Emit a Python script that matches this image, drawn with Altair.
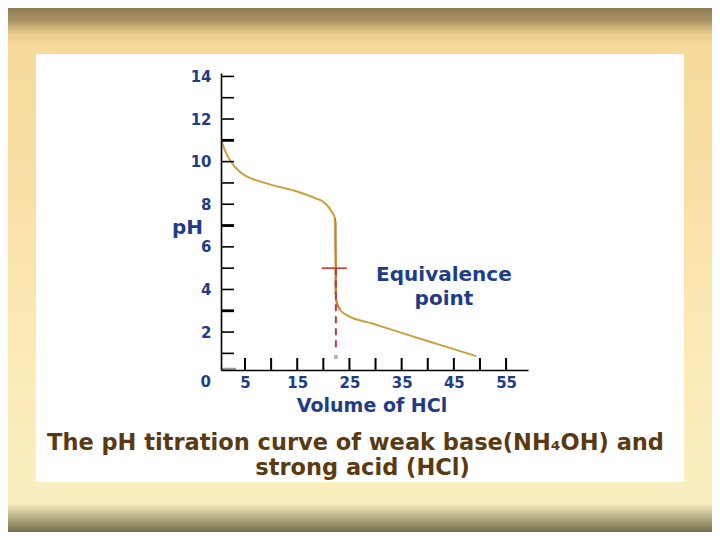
import altair as alt
import pandas as pd

# ---- data ----
volume = [0.55, 1.2, 2.1, 4.0, 8.8, 15.1, 18.4, 20.3, 21.6, 22.2, 22.3, 22.45, 23.2, 24.6, 29.4, 35.9, 42.2, 49.3]
ph = [10.93, 10.5, 10.08, 9.53, 9.0, 8.59, 8.29, 8.06, 7.65, 7.35, 7.05, 3.5, 3.05, 2.78, 2.4, 1.89, 1.41, 0.87]

y_tick_values = list(range(1, 15))
y_bold_ticks = [3, 7, 11]
y_label_values = [2, 4, 6, 8, 10, 12, 14]
x_tick_values = [5, 10, 15, 20, 25, 30, 35, 40, 45, 50, 55]
x_label_values = [5, 15, 25, 35, 45, 55]

equiv_volume = 22.4
equiv_ph = 5.0
cross_left = 19.7
cross_right = 24.5
dash_bottom_ph = 1.15
marker_ph = 0.83
highlight_top = [7.2, 4.6]
highlight_bottom = [5.8, 3.8]

annot_volume = [43.1, 43.1]
annot_ph = [4.68, 3.55]
annot_text = ["Equivalence", "point"]

title_lines = ["The pH titration curve of weak base(NH\u2084OH) and", "strong acid (HCl)"]
x_title = "Volume of HCl"
y_title = "pH"

# ---- layout ----
W, H = 307, 297
PAD = {"left": 213, "top": 65, "right": 184, "bottom": 162}
FONT = "DejaVu Sans"
NAVY = "#1f3d87"
BROWN = "#5b3a12"

xs = alt.Scale(domain=[0.4, 59.2], nice=False, zero=False)
ys = alt.Scale(domain=[0.22, 14.16], nice=False, zero=False)

xaxis = alt.Axis(values=x_label_values, tickSize=0, labelPadding=5, labelFont=FONT,
                 labelFontSize=15, labelFontWeight="bold", labelColor=NAVY,
                 domainColor="black", domainWidth=1.6, grid=False, zindex=1,
                 title=x_title, titleFont=FONT, titleFontSize=19, titleFontWeight="bold",
                 titleColor=NAVY, titleX=150.5, titleY=35, titleBaseline="middle",
                 titleAlign="center", labelFlush=False)
yaxis = alt.Axis(values=y_label_values, tickSize=0, labelPadding=10, labelFont=FONT,
                 labelFontSize=15, labelFontWeight="bold", labelColor=NAVY,
                 domainColor="black", domainWidth=1.6, grid=False, zindex=1,
                 title=y_title, titleFont=FONT, titleFontSize=20, titleFontWeight="bold",
                 titleColor=NAVY, titleAngle=0, titleX=-34, titleY=154,
                 titleBaseline="middle", titleAlign="center", labelFlush=False)

X = alt.X("vol:Q", scale=xs, axis=xaxis)
Y = alt.Y("ph:Q", scale=ys, axis=yaxis)

one = pd.DataFrame({"k": [0]})

# ---- background decoration ----
bg = alt.Chart(one).mark_rect(fill=alt.Gradient(
    gradient="linear", x1=0, x2=0, y1=0, y2=1,
    stops=[alt.GradientStop(color="#8f7b53", offset=0.0),
           alt.GradientStop(color="#a99162", offset=0.023),
           alt.GradientStop(color="#eccd8e", offset=0.05),
           alt.GradientStop(color="#f7d99b", offset=0.075),
           alt.GradientStop(color="#f9dfa6", offset=0.35),
           alt.GradientStop(color="#fcecb8", offset=0.7),
           alt.GradientStop(color="#f8efc0", offset=0.945),
           alt.GradientStop(color="#aaa47c", offset=0.977),
           alt.GradientStop(color="#75714e", offset=1.0)])
).encode(x=alt.value(-213), x2=alt.value(491), y=alt.value(-65), y2=alt.value(459))

box = alt.Chart(one).mark_rect(fill="white").encode(
    x=alt.value(-185), x2=alt.value(463), y=alt.value(-19), y2=alt.value(409))

# ---- ticks (pointing inward) ----
yt = alt.Chart(pd.DataFrame({"ph": y_tick_values})).mark_rule(color="black", strokeWidth=1.6).encode(
    y=Y, x=alt.value(0), x2=alt.value(13))
ytb = alt.Chart(pd.DataFrame({"ph": y_bold_ticks})).mark_rule(color="black", strokeWidth=2.8).encode(
    y=Y, x=alt.value(0), x2=alt.value(13))
xt = alt.Chart(pd.DataFrame({"vol": x_tick_values})).mark_rule(color="black", strokeWidth=2).encode(
    x=X, y=alt.value(H), y2=alt.value(H - 12))
zero_tick = alt.Chart(one).mark_rule(color="#9a9a9a", strokeWidth=2.5).encode(
    x=alt.value(0), x2=alt.value(15), y=alt.value(H - 1))
zero_label = alt.Chart(pd.DataFrame({"ph": [0], "t": ["0"]})).mark_text(
    font=FONT, fontSize=15, fontWeight="bold", color=NAVY, align="right", baseline="middle", dy=7
).encode(y=Y, x=alt.value(-10), text="t:N")

# ---- curve ----
curve_df = pd.DataFrame({"vol": volume, "ph": ph})
curve = alt.Chart(curve_df).mark_line(color="#c9a03e", strokeWidth=2, interpolate="monotone").encode(x=X, y=Y)
hl = alt.Chart(pd.DataFrame({"vol": [equiv_volume - 0.1] * 2, "ph": highlight_top, "ph2": highlight_bottom})).mark_rule(
    color="#cfc8bc", strokeWidth=3).encode(x=X, y=Y, y2="ph2:Q")
steep_df = curve_df[(curve_df.ph <= 7.4) & (curve_df.ph >= 3.0)]
steep = alt.Chart(steep_df).mark_line(color="#d07f2c", strokeWidth=2, interpolate="monotone").encode(x=X, y=Y)

# ---- equivalence point ----
dash = alt.Chart(pd.DataFrame({"vol": [equiv_volume], "ph": [equiv_ph], "ph2": [dash_bottom_ph]})).mark_rule(
    color="#b83a3a", strokeWidth=2, strokeDash=[7, 5]).encode(x=X, y=Y, y2="ph2:Q")
cross = alt.Chart(pd.DataFrame({"vol": [cross_left], "vol2": [cross_right], "ph": [equiv_ph]})).mark_rule(
    color="#c0302a", strokeWidth=1.5).encode(x=X, x2="vol2:Q", y=Y)
marker = alt.Chart(pd.DataFrame({"vol": [equiv_volume], "ph": [marker_ph]})).mark_square(
    color="#b8a8b0", size=14, opacity=1).encode(x=X, y=Y)

annot = alt.Chart(pd.DataFrame({"vol": annot_volume, "ph": annot_ph, "t": annot_text})).mark_text(
    font=FONT, fontSize=20, fontWeight="bold", color=NAVY, align="center", baseline="middle"
).encode(x=X, y=Y, text="t:N")

title1 = alt.Chart(pd.DataFrame({"t": [title_lines[0]]})).mark_text(
    font=FONT, fontSize=22.5, fontWeight="bold", color=BROWN, align="center", baseline="middle"
).encode(x=alt.value(134.5), y=alt.value(370), text="t:N")
title2 = alt.Chart(pd.DataFrame({"t": [title_lines[1]]})).mark_text(
    font=FONT, fontSize=22.5, fontWeight="bold", color=BROWN, align="center", baseline="middle"
).encode(x=alt.value(141.5), y=alt.value(395), text="t:N")

chart = alt.layer(
    bg, box, curve, hl, steep, dash, cross, marker, yt, ytb, xt, zero_tick, zero_label, annot, title1, title2
).properties(
    width=W, height=H, autosize=alt.AutoSizeParams(type="none"), padding=PAD
).configure_view(strokeWidth=0, clip=False).configure(background="#f7d99b")

chart.save("out.html", embed_options={"renderer": "svg", "actions": False})
